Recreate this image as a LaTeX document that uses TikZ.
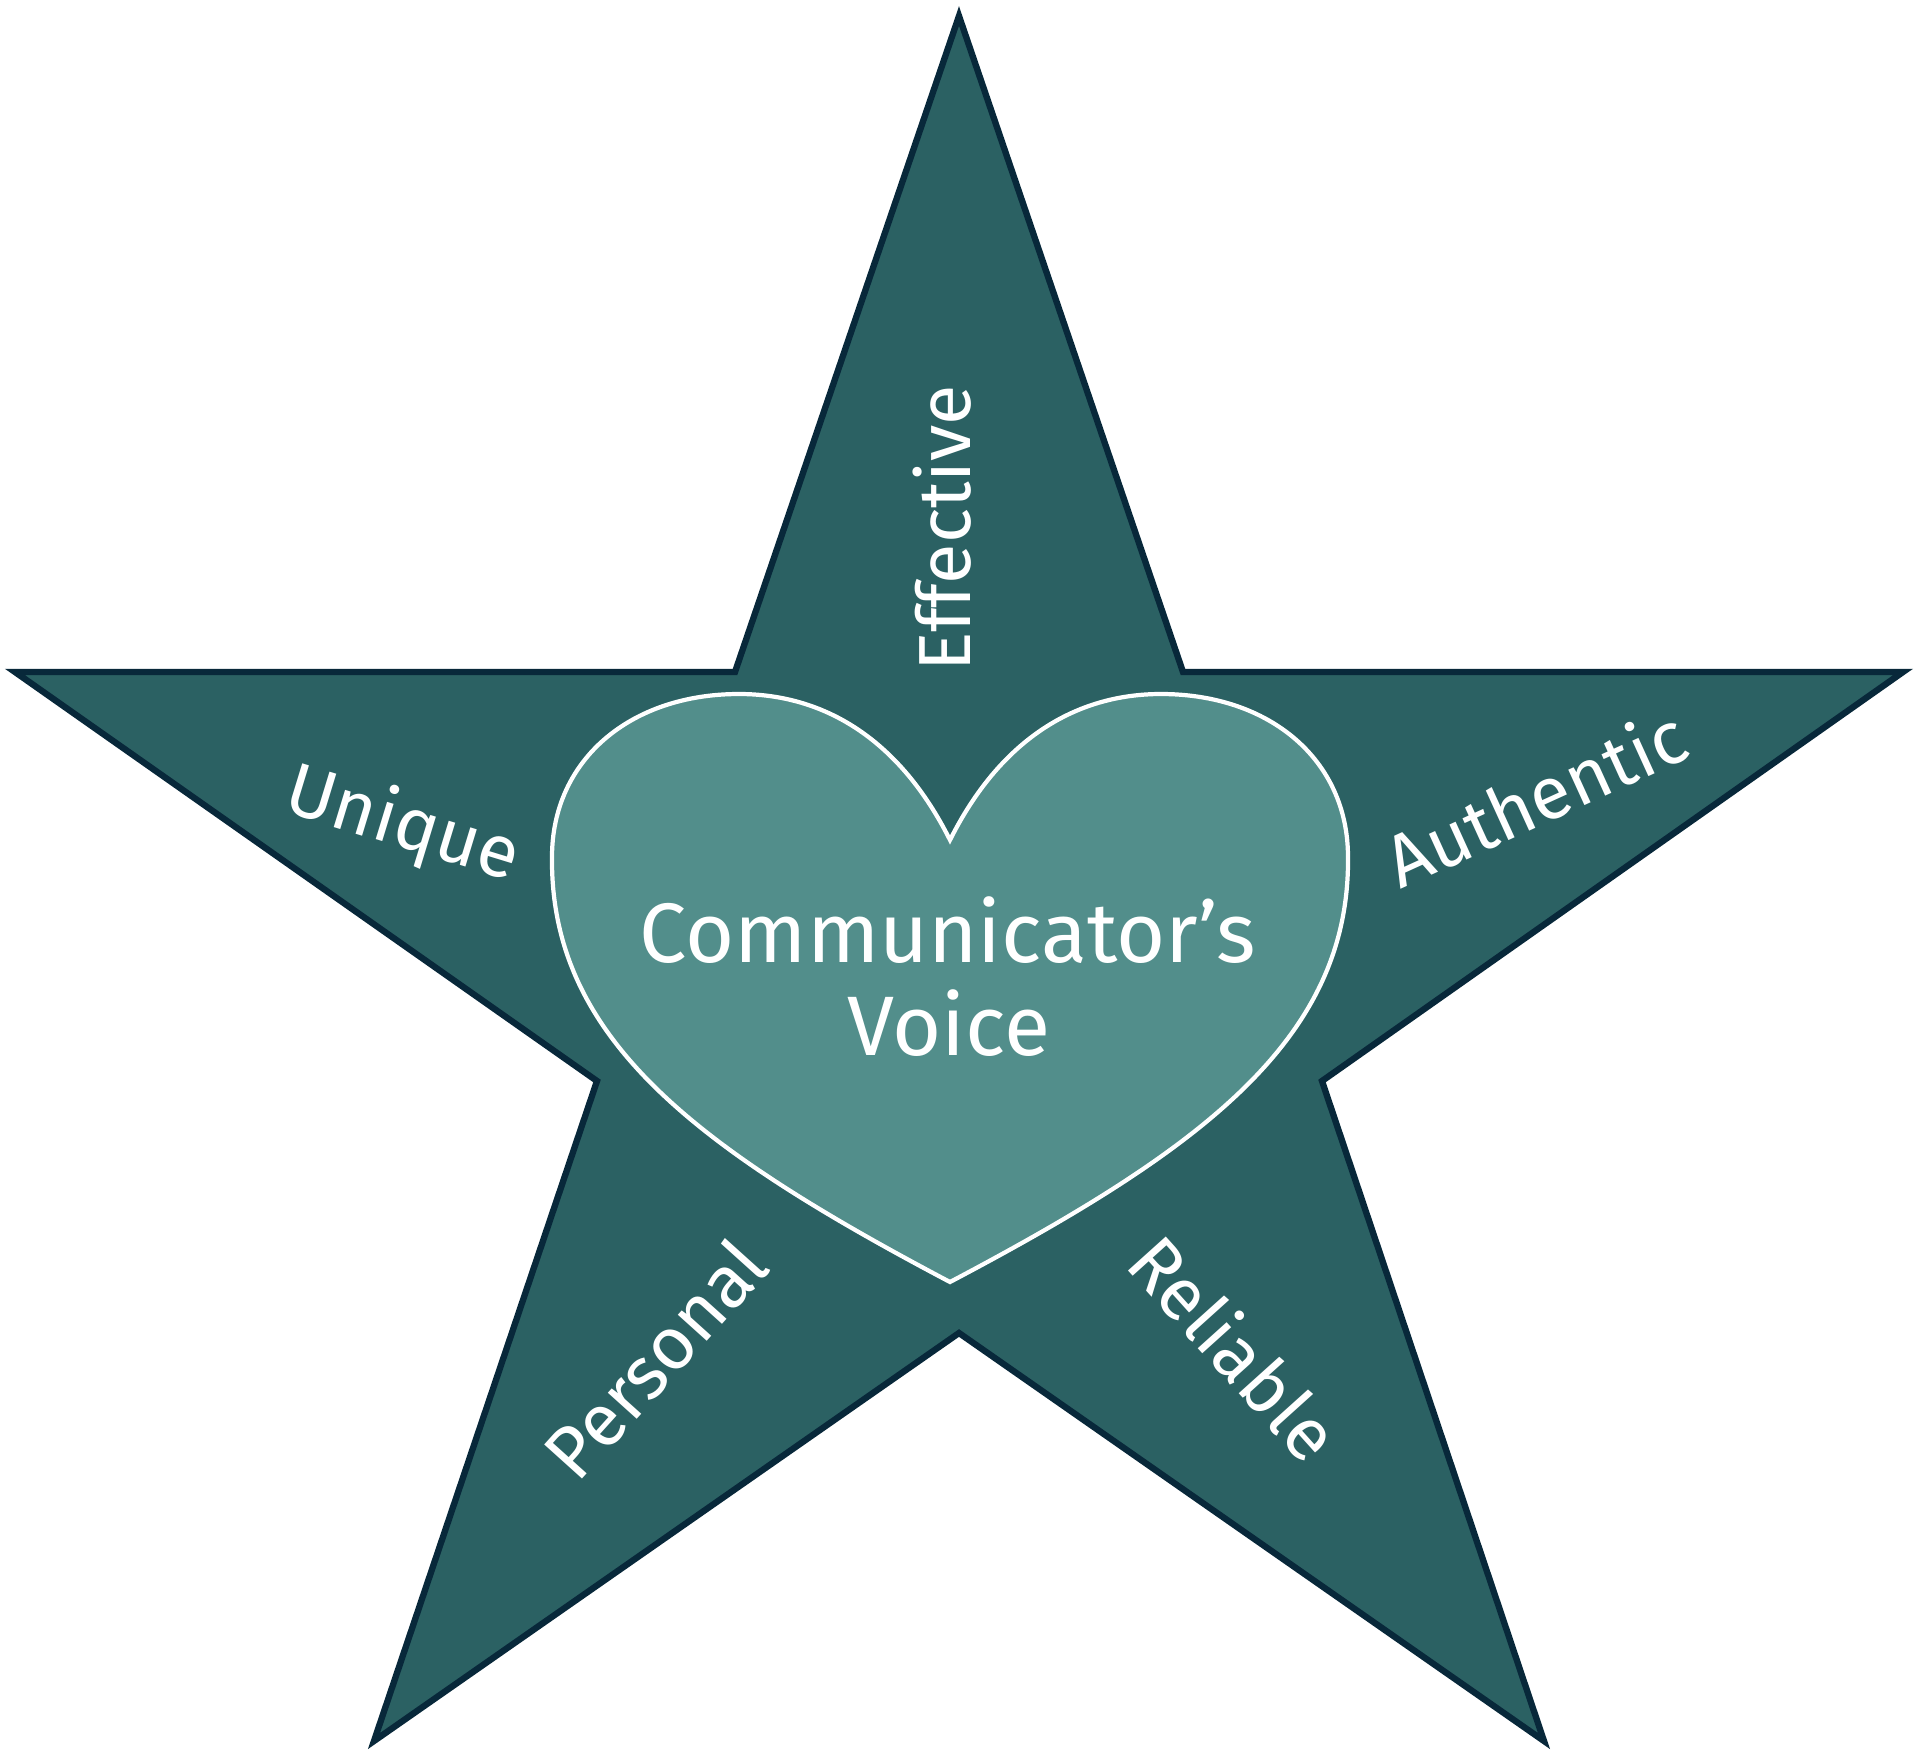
\documentclass[tikz,border=0pt]{standalone}
\usepackage{fontspec}
\setmainfont{Fira Sans}
\definecolor{starfill}{HTML}{2B6163}
\definecolor{staredge}{HTML}{08283A}
\definecolor{heartfill}{HTML}{528E8B}
\begin{document}
\begin{tikzpicture}[x=0.01cm,y=0.01cm,
  starshape/.style={fill=starfill,draw=staredge,line width=1.8pt,line join=miter},
  heartshape/.style={fill=heartfill,draw=white,line width=1.2pt},
  lbl/.style={text=white,font=\fontsize{21}{25}\selectfont,inner sep=0pt,anchor=base},
  maintxt/.style={text=white,font=\fontsize{24}{29}\selectfont,inner sep=0pt,anchor=base}]
\useasboundingbox (0,0) rectangle (1920,-1751);
\draw[starshape] (959,-16) -- (1183,-672) -- (1903,-672) -- (1322,-1081) -- (1544,-1741)
  -- (959,-1333) -- (374,-1741) -- (597,-1081) -- (15,-672) -- (735,-672) -- cycle;
\draw[heartshape] (950,-840) .. controls (1000,-740) and (1075,-694) .. (1161,-694)
 .. controls (1270,-694) and (1348,-760) .. (1348,-857)
 .. controls (1350,-1040) and (1200,-1150) .. (950,-1282)
 .. controls (700,-1150) and (550,-1040) .. (552,-857)
 .. controls (552,-760) and (630,-694) .. (739,-694)
 .. controls (825,-694) and (900,-740) .. (950,-840) -- cycle;
\node[maintxt] (cv1) at (948,-962) {Communicator’s};
\node[maintxt] (cv2) at (949,-1055) {Voice};
\node[lbl,rotate=90] (eff) at (970,-528) {Effective};
\node[lbl,rotate=-17] (uni) at (396,-846) {Unique};
\node[lbl,rotate=24.5] (aut) at (1547,-823) {Authentic};
\node[lbl,rotate=48] (per) at (675,-1377) {Personal};
\node[lbl,rotate=-48] (rel) at (1214,-1366) {Reliable};
\end{tikzpicture}
\end{document}
